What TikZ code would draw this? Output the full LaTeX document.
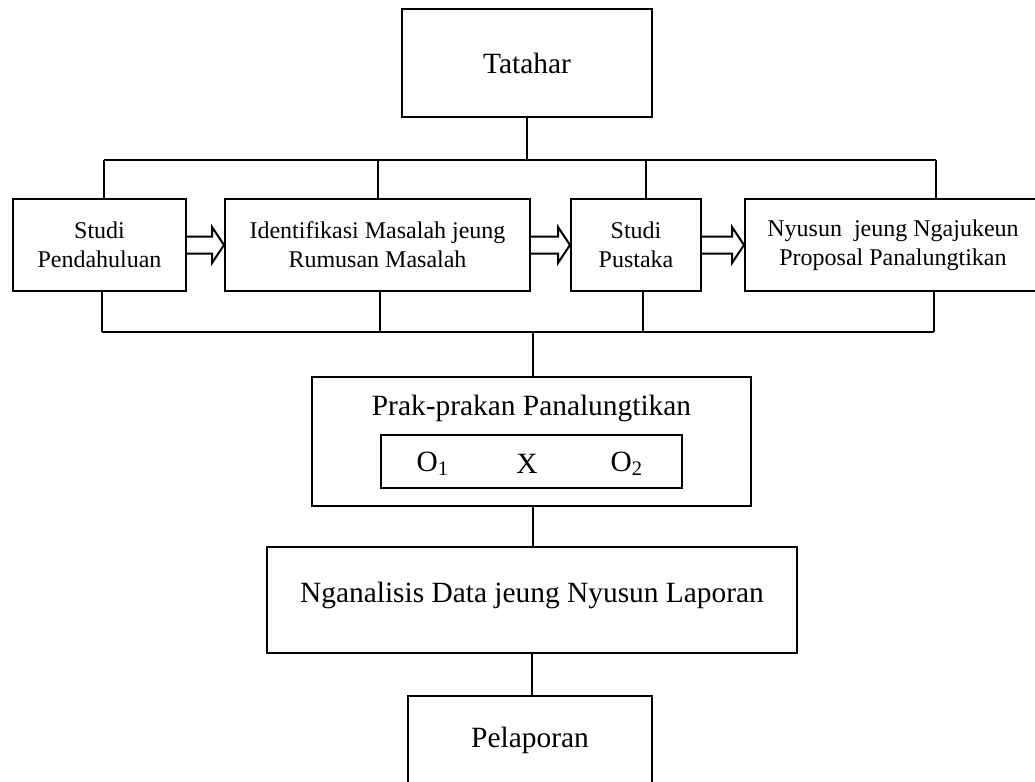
\documentclass[tikz,border=0pt]{standalone}
\usepackage{fontspec}
\setmainfont{Liberation Serif}
\usetikzlibrary{calc}
\tikzset{
	big/.style={
		font=\fontsize{14.7}{17.5}\selectfont
	},
	box/.style={
		draw,
		line width=1pt,
		align=center,
		inner sep=0pt,
		big
	},
	stepbox/.style={
		box,
		minimum height=46pt,
		font=\fontsize{12}{14.5}\selectfont
	},
	wire/.style={
		line width=.8pt
	},
	hollow/.style={
		line width=1pt,
		line join=miter,
		fill=white
	}
}
% open block arrow from the east side of #1 to the west side of #2
\newcommand{\blockarrow}[2]{
	\draw[hollow] ([yshift=4.25pt]#1.east)
	-- ([xshift=-6pt,yshift=4.25pt]#2.west)
	-- ([xshift=-6pt,yshift=9pt]#2.west)
	-- (#2.west)
	-- ([xshift=-6pt,yshift=-9pt]#2.west)
	-- ([xshift=-6pt,yshift=-4.25pt]#2.west)
	-- ([yshift=-4.25pt]#1.east);
}

\begin{document}
\begin{tikzpicture}[x=.5pt,y=-.5pt]
	\clip (0,0) rectangle (1035,782);
	\node[box,minimum width=125pt,minimum height=54pt] (tatahar) at (527,63) {Tatahar};
	\node[stepbox,minimum width=86.5pt] (studi) at (99.5,245) {Studi\\Pendahuluan};
	\node[stepbox,minimum width=152.5pt] (ident) at (377.5,245) {Identifikasi Masalah jeung\\Rumusan Masalah};
	\node[stepbox,minimum width=65pt] (pustaka) at (636,245) {Studi\\Pustaka};
	\node[stepbox,minimum width=148pt] (nyusun) at (893,245) {Nyusun\ \ jeung Ngajukeun\\Proposal Panalungtikan};
	\node[box,minimum width=219.5pt,minimum height=64.5pt] (prak) at (531.5,441.5) {};
	\node[big] (praktitle) at (531.5,408) {Prak-prakan Panalungtikan};
	\node[box,minimum width=150.5pt,minimum height=26.5pt] (desain) at (531.5,461.5) {};
	\node[big] (o1) at (433,464) {O\textsubscript{1}};
	\node[big] (perlakuan) at (527,464) {X};
	\node[big] (o2) at (627,464) {O\textsubscript{2}};
	\node[box,minimum width=265pt,minimum height=53pt,text depth=8pt] (nganalisis) at (532,600) {Nganalisis Data jeung Nyusun Laporan};
	\node[box,minimum width=121.75pt,minimum height=44pt] (pelaporan) at (530,740) {Pelaporan};

	% top bus
	\foreach \n/\dx in {studi/104,ident/378,pustaka/646,nyusun/936}
		\draw[wire] (\dx,160) coordinate (up-\n) -- (up-\n |- \n.north);
	\draw[wire] (up-studi) -- (up-nyusun);
	\draw[wire] (tatahar.south) -- (tatahar.south |- up-studi);

	% bottom bus
	\foreach \n/\dx in {studi/102,ident/380,pustaka/643,nyusun/934}
		\draw[wire] (\dx,332) coordinate (dn-\n) -- (dn-\n |- \n.south);
	\draw[wire] (dn-studi) -- (dn-nyusun);
	\draw[wire] ([xshift=.75pt]prak.north) -- ([xshift=.75pt]prak.north |- dn-studi);

	\blockarrow{studi}{ident}
	\blockarrow{ident}{pustaka}
	\blockarrow{pustaka}{nyusun}

	\draw[wire] ([xshift=.75pt]prak.south) -- ([xshift=.75pt]prak.south |- nganalisis.north);
	\draw[wire] (nganalisis.south) -- (nganalisis.south |- pelaporan.north);
\end{tikzpicture}
\end{document}
